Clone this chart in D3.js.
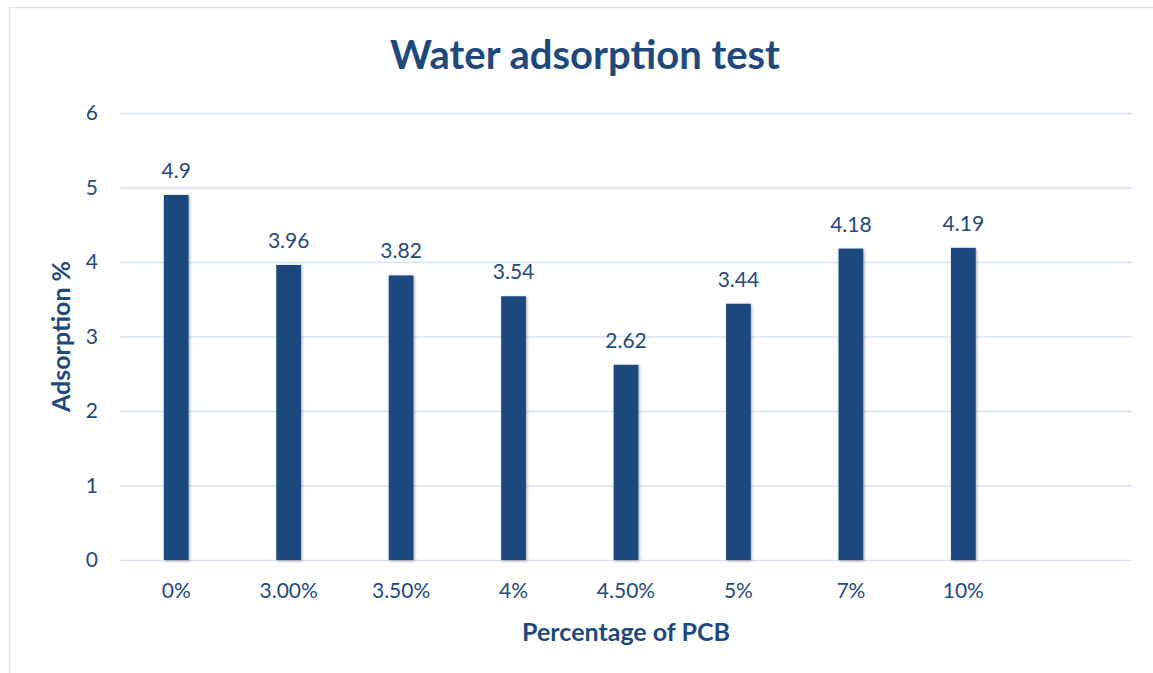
<!DOCTYPE html>
<html>
<head>
<meta charset="utf-8">
<script src="https://cdn.jsdelivr.net/npm/d3@7"></script>
<style>
  body { margin: 0; background: #fff; }
  svg { display: block; font-family: Lato, "Open Sans", sans-serif; }
</style>
</head>
<body>
<div id="chart"></div>
<script>
// Data
const categories = ['0%', '3.00%', '3.50%', '4%', '4.50%', '5%', '7%', '10%', ''];
const values = [4.9, 3.96, 3.82, 3.54, 2.62, 3.44, 4.18, 4.19, null];
const yTicks = [0, 1, 2, 3, 4, 5, 6];

const width = 1153, height = 673;
const margin = { top: 113, right: 21, bottom: 113, left: 120 };
const textColor = '#1F497D';
const barColor = '#1F497D';
const gridColor = '#D6E2F2';

const svg = d3.select('#chart').append('svg')
  .attr('width', width)
  .attr('height', height);

// soft drop shadow behind the bars
const defs = svg.append('defs');
const shadow = defs.append('filter')
  .attr('id', 'shadow')
  .attr('x', '-50%').attr('y', '-10%')
  .attr('width', '200%').attr('height', '120%');
shadow.append('feDropShadow')
  .attr('dx', 1).attr('dy', 1)
  .attr('stdDeviation', 1.5)
  .attr('flood-color', '#000')
  .attr('flood-opacity', 0.35);

// outer chart border
svg.append('rect')
  .attr('x', 9.5).attr('y', 7.5)
  .attr('width', width)
  .attr('height', height)
  .attr('fill', 'none')
  .attr('stroke', '#D6E2F2')
  .attr('stroke-width', 1.5);

const x = d3.scaleBand()
  .domain(d3.range(categories.length))
  .range([margin.left, width - margin.right])
  .paddingInner(0.78)
  .paddingOuter(0.39);

const y = d3.scaleLinear()
  .domain([0, 6])
  .range([height - margin.bottom, margin.top]);

// gridlines
svg.append('g')
  .selectAll('line')
  .data(yTicks)
  .join('line')
  .attr('x1', margin.left)
  .attr('x2', width - margin.right)
  .attr('y1', d => y(d) + 0.5)
  .attr('y2', d => y(d) + 0.5)
  .attr('stroke', gridColor)
  .attr('stroke-width', 1.5);

// y axis labels
const yAxis = svg.append('g')
  .attr('transform', `translate(${margin.left - 22},0)`)
  .call(d3.axisLeft(y).tickValues(yTicks).tickFormat(d3.format('d')).tickSize(0).tickPadding(0));
yAxis.select('.domain').remove();
yAxis.selectAll('text')
  .attr('fill', textColor)
  .style('font-size', '21px')
  .style('font-family', 'Lato, "Open Sans", sans-serif');

// x axis labels
const xAxis = svg.append('g')
  .attr('transform', `translate(0,${height - margin.bottom})`)
  .call(d3.axisBottom(x).tickFormat(i => categories[i]).tickSize(0).tickPadding(23));
xAxis.select('.domain').remove();
xAxis.selectAll('text')
  .attr('fill', textColor)
  .style('font-size', '21px')
  .style('font-family', 'Lato, "Open Sans", sans-serif');

const barData = values.map((v, i) => ({ i, v })).filter(d => d.v !== null);

// bars
svg.append('g')
  .selectAll('rect')
  .data(barData)
  .join('rect')
  .attr('x', d => x(d.i))
  .attr('y', d => y(d.v))
  .attr('width', x.bandwidth())
  .attr('height', d => y(0) - y(d.v))
  .attr('fill', barColor)
  .attr('filter', 'url(#shadow)');

// value labels
svg.append('g')
  .selectAll('text')
  .data(barData)
  .join('text')
  .attr('x', d => x(d.i) + x.bandwidth() / 2)
  .attr('y', d => y(d.v) - 17)
  .attr('text-anchor', 'middle')
  .attr('fill', textColor)
  .style('font-size', '21px')
  .text(d => d.v);

// title
svg.append('text')
  .attr('x', 585)
  .attr('y', 69)
  .attr('text-anchor', 'middle')
  .attr('fill', textColor)
  .style('font-size', '40px')
  .style('font-weight', 'bold')
  .text('Water adsorption test');

// axis titles
svg.append('text')
  .attr('x', (margin.left + width - margin.right) / 2)
  .attr('y', 641)
  .attr('text-anchor', 'middle')
  .attr('fill', textColor)
  .style('font-size', '25px')
  .style('font-weight', 'bold')
  .text('Percentage of PCB');

svg.append('text')
  .attr('transform', `translate(70,${(margin.top + height - margin.bottom) / 2}) rotate(-90)`)
  .attr('text-anchor', 'middle')
  .attr('fill', textColor)
  .style('font-size', '25px')
  .style('font-weight', 'bold')
  .text('Adsorption %');
</script>
</body>
</html>
